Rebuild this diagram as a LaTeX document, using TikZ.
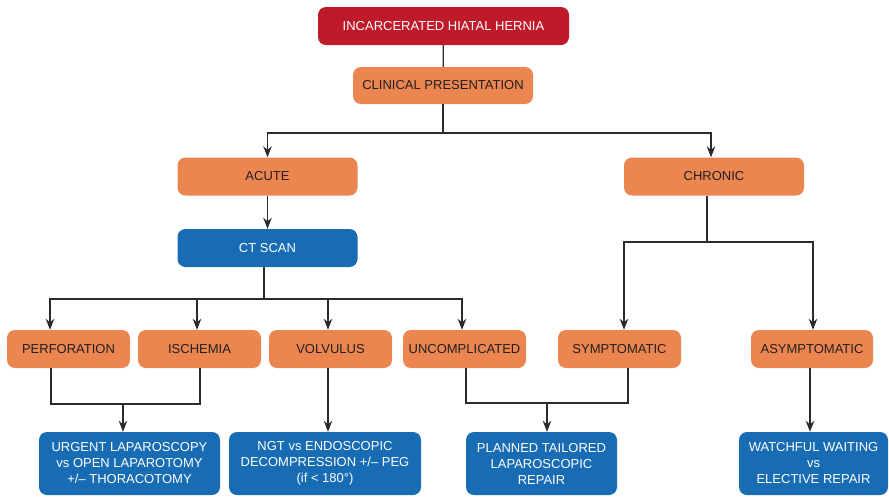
\documentclass[tikz,border=0pt]{standalone}
\usepackage{fontspec}
\setmainfont{Liberation Sans}
\usepackage{tikz}
\usetikzlibrary{arrows.meta}
\definecolor{hred}{HTML}{BF1A2A}
\definecolor{horange}{HTML}{EC8650}
\definecolor{hblue}{HTML}{176CB4}
\definecolor{hline}{HTML}{2B2B2B}
\definecolor{htext}{HTML}{231F20}
\tikzset{
  box/.style={rounded corners=8pt, minimum height=38pt, inner sep=0pt, align=center, font=\fontsize{13}{16}\selectfont},
  redbox/.style={box, fill=hred, text=white},
  orbox/.style={box, fill=horange, text=htext},
  bluebox/.style={box, fill=hblue, text=white},
  outbox/.style={bluebox, minimum height=63pt},
  link/.style={draw=hline, line width=1.3pt},
  arr/.style={link, -{Stealth[length=11pt,width=8.5pt,inset=3.5pt]}},
}

\begin{document}
\begin{tikzpicture}[x=1pt,y=-1pt]
                \useasboundingbox (0,0) rectangle (889,496);

                \node[redbox, minimum width=251pt] (hernia) at (443.5,26) {INCARCERATED HIATAL HERNIA};
                \node[orbox, minimum width=180pt, minimum height=37pt] (clin) at (443,85.5) {CLINICAL PRESENTATION};
                \node[orbox, minimum width=180pt] (acute) at (267.5,176.5) {ACUTE};
                \node[orbox, minimum width=180pt] (chronic) at (714,176.5) {CHRONIC};
                \node[bluebox, minimum width=180pt] (ct) at (267.5,248) {CT SCAN};
                \node[orbox, minimum width=123pt] (perf) at (68.5,349) {PERFORATION};
                \node[orbox, minimum width=123pt] (isch) at (199.5,349) {ISCHEMIA};
                \node[orbox, minimum width=123pt] (volv) at (330.5,349) {VOLVULUS};
                \node[orbox, minimum width=123pt] (uncomp) at (464.5,349) {UNCOMPLICATED};
                \node[orbox, minimum width=123pt] (sympt) at (619.5,349) {SYMPTOMATIC};
                \node[orbox, minimum width=122pt] (asympt) at (812,349) {ASYMPTOMATIC};
                \node[outbox, minimum width=181pt] (urgent) at (129.5,463.5) {URGENT LAPAROSCOPY\\vs OPEN LAPAROTOMY\\+/– THORACOTOMY};
                \node[outbox, minimum width=192pt] (ngt) at (325,463.5) {NGT vs ENDOSCOPIC\\DECOMPRESSION +/– PEG\\(if < 180°)};
                \node[outbox, minimum width=151pt] (planned) at (541.5,463.5) {PLANNED TAILORED\\LAPAROSCOPIC\\REPAIR};
                \node[outbox, minimum width=149pt] (watch) at (813.5,463.5) {WATCHFUL WAITING\\vs\\ELECTIVE REPAIR};

                \coordinate (j1) at (443,133);
                \coordinate (j2) at (264,299);
                \coordinate (j3) at (707,242);
                \coordinate (j4) at (123,404);
                \coordinate (j5) at (547,403);

                % hernia to clin
                \draw[link] (hernia) -- (clin);
                % clin to acute and chronic
                \draw[link] (clin) -- (j1);
                \draw[arr] (j1) -| (acute);
                \draw[arr] (j1) -| ([xshift=-3pt]chronic.north);
                % acute to ct
                \draw[arr] (acute) -- (ct);
                % ct to the four findings
                \draw[link] ([xshift=-3.5pt]ct.south) -- (j2);
                \draw[arr] (j2) -| ([xshift=-18.5pt]perf.north);
                \draw[arr] (j2) -| ([xshift=-2.5pt]isch.north);
                \draw[arr] (j2) -| ([xshift=-2.5pt]volv.north);
                \draw[arr] (j2) -| ([xshift=-2.5pt]uncomp.north);
                % chronic to sympt and asympt
                \draw[link] ([xshift=-7pt]chronic.south) -- (j3);
                \draw[arr] (j3) -| ([xshift=4.5pt]sympt.north);
                \draw[arr] (j3) -| ([xshift=1pt]asympt.north);
                % perf and isch to urgent
                \draw[link] ([xshift=-17.5pt]perf.south) |- (j4) -| ([xshift=0.5pt]isch.south);
                \draw[arr] (j4) -- (j4 |- urgent.north);
                % volv to ngt
                \draw[arr] ([xshift=-2.5pt]volv.south) -- ([xshift=-2.5pt]volv.south |- ngt.north);
                % uncomp and sympt to planned
                \draw[link] ([xshift=1.5pt]uncomp.south) |- (j5) -| ([xshift=8.5pt]sympt.south);
                \draw[arr] (j5) -- (j5 |- planned.north);
                % asympt to watch
                \draw[arr] ([xshift=-2pt]asympt.south) -- ([xshift=-2pt]asympt.south |- watch.north);
            \end{tikzpicture}
\end{document}
